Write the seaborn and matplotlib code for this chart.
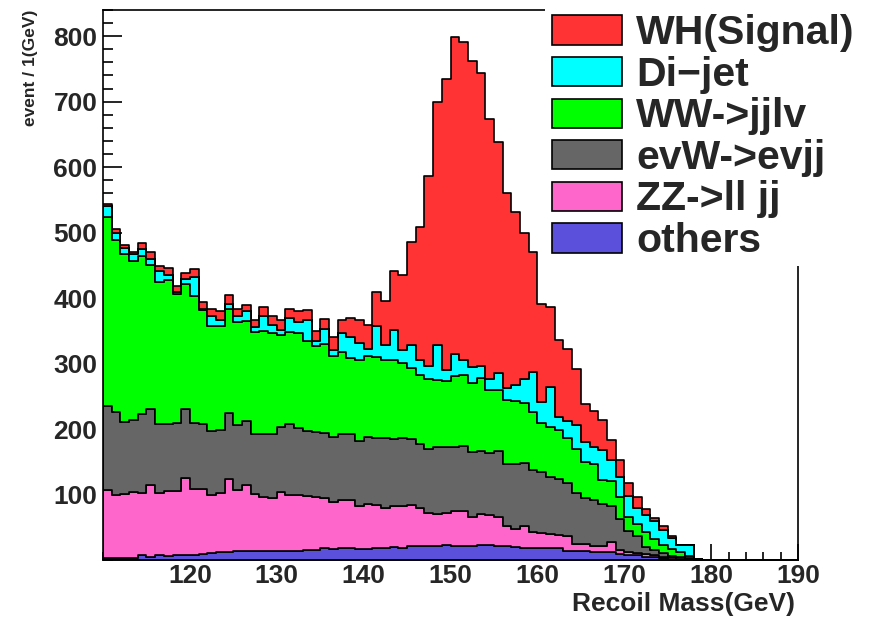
import numpy as np
import pandas as pd
import matplotlib
matplotlib.use("Agg")
import matplotlib.pyplot as plt
import seaborn as sns
from matplotlib.patches import Rectangle
from matplotlib.ticker import MultipleLocator

# 1 GeV bins from 110 to 190, events per bin (bins from 110 GeV up)
edges = np.arange(110, 191, 1)

wh = [3, 6, 5, 4, 9, 11, 7, 10, 10, 10, 12, 11, 11, 13, 14, 12, 9, 11, 14, 14,
      15, 13, 18, 16, 14, 15, 20, 21, 29, 34, 37, 52, 66, 90, 114, 158, 204, 291, 371, 445,
      485, 485, 467, 448, 396, 353, 297, 264, 223, 184, 150, 123, 117, 109, 86, 58, 56, 46, 31,
      25, 20, 17, 9, 5, 6, 3, 0, 0, 0]
dijet = [16, 12, 9, 11, 10, 10, 17, 8, 2, 7, 29, 1, 16, 9, 7, 9, 15, 8, 22, 13,
         8, 22, 17, 31, 8, 23, 9, 28, 32, 27, 10, 47, 23, 46, 20, 34, 23, 20, 54, 17,
         33, 24, 24, 18, 17, 27, 19, 25, 37, 61, 32, 61, 21, 27, 36, 30, 26, 46, 32,
         31, 31, 24, 26, 27, 23, 16, 11, 17, 0]
ww = [289, 262, 256, 242, 242, 220, 218, 221, 197, 191, 193, 174, 160, 159, 160, 157, 152, 155, 157, 154,
      141, 141, 144, 138, 131, 136, 123, 126, 117, 123, 124, 124, 119, 120, 114, 109, 105, 107, 102, 101,
      108, 108, 106, 111, 96, 93, 98, 96, 92, 89, 74, 76, 75, 69, 68, 55, 55, 37, 37,
      34, 21, 19, 23, 17, 13, 11, 8, 3, 1]
evw = [128, 127, 110, 110, 120, 115, 104, 102, 104, 106, 101, 100, 98, 97, 101, 99, 98, 92, 97, 98,
       99, 107, 103, 100, 100, 100, 100, 100, 101, 100, 103, 102, 107, 103, 104, 101, 97, 97, 103, 100,
       98, 99, 100, 96, 95, 101, 94, 99, 96, 94, 93, 87, 85, 81, 77, 71, 69, 64, 56,
       47, 33, 26, 11, 8, 5, 2, 2, 1, 0]
zz = [104, 96, 98, 101, 96, 110, 96, 99, 99, 118, 101, 99, 89, 90, 111, 94, 102, 87, 82, 81,
      91, 86, 86, 82, 80, 76, 71, 73, 73, 65, 68, 66, 61, 62, 64, 62, 58, 51, 48, 49,
      53, 54, 44, 48, 46, 44, 31, 28, 33, 24, 23, 22, 20, 22, 12, 11, 10, 9, 15,
      6, 4, 3, 4, 3, 2, 2, 1, 1, 0]
others = [3, 3, 3, 3, 7, 5, 7, 6, 7, 7, 8, 9, 10, 12, 12, 13, 13, 14, 14, 13,
          13, 14, 13, 15, 16, 18, 17, 19, 18, 17, 17, 18, 19, 20, 19, 22, 22, 21, 22, 23,
          22, 21, 21, 23, 23, 21, 21, 20, 19, 19, 19, 18, 18, 14, 13, 13, 12, 12, 12,
          9, 8, 7, 5, 4, 3, 2, 1, 1, 0]

# top of the stack first (seaborn stacks the last hue level at the bottom)
labels = ["WH(Signal)", "Di\u2212jet", "WW->jjlv", "evW->evjj", "ZZ->ll jj", "others"]
colors = ["#ff3333", "#00ffff", "#00ff00", "#666666", "#ff66cc", "#5a50dc"]

rows = []
for name, vals in zip(labels, [wh, dijet, ww, evw, zz, others]):
    for i, v in enumerate(vals):
        rows.append((edges[i] + 0.5, v, name))
df = pd.DataFrame(rows, columns=["mass", "count", "process"])

sns.set_style("ticks")
plt.rcParams["font.family"] = ["Liberation Sans", "DejaVu Sans"]
plt.rcParams["font.weight"] = "bold"
plt.rcParams["axes.linewidth"] = 1.2

W, H = 876, 618
fig = plt.figure(figsize=(W / 100, H / 100), dpi=100)
ax = fig.add_axes([103 / W, 1 - 560 / H, 695 / W, 550 / H])

sns.histplot(data=df, x="mass", weights="count", hue="process", hue_order=labels,
             palette=colors, binwidth=1, binrange=(110, 190), multiple="stack",
             element="step", alpha=1, edgecolor="black", linewidth=1.2,
             legend=False, ax=ax)

ax.set_xlim(110, 190)
ax.set_ylim(0, 840)
ax.set_xticks(np.arange(120, 191, 10))
ax.xaxis.set_minor_locator(MultipleLocator(2))
ax.set_yticks(np.arange(100, 801, 100))
ax.yaxis.set_minor_locator(MultipleLocator(20))
ax.tick_params(which="both", direction="in", labelsize=19, width=1.2, color="black")
ax.tick_params(axis="y", which="major", length=14, pad=4)
ax.tick_params(axis="y", which="minor", length=7)
ax.tick_params(axis="x", which="major", length=11.5, pad=3)
ax.tick_params(axis="x", which="minor", length=6)
for s in ax.spines.values():
    s.set_color("black")

ax.set_xlabel("Recoil Mass(GeV)", fontsize=19, fontweight="bold", loc="right")
ax.xaxis.set_label_coords(0.995, -0.058)
ax.set_ylabel("event / 1(GeV)", fontsize=12.5, fontweight="bold", loc="top")
ax.yaxis.set_label_coords(-0.094, 1.0)

# ROOT style legend box sitting over the top right corner of the frame
fig.add_artist(Rectangle((545 / W, 1 - 266 / H), 1 - 545 / W, 266 / H,
                         transform=fig.transFigure, facecolor="white",
                         edgecolor="none", zorder=5))
for k, (lab, col) in enumerate(zip(labels, colors)):
    yc = 30 + 41.6 * k
    fig.add_artist(Rectangle((552 / W, 1 - (yc + 14.5) / H), 70 / W, 29 / H,
                             transform=fig.transFigure, facecolor=col,
                             edgecolor="black", lw=1.2, zorder=6))
    fig.text(636 / W, 1 - (yc + 14) / H, lab, fontsize=29.5, fontweight="bold",
             ha="left", va="baseline", zorder=6)

fig.savefig("out.png", dpi=100)
